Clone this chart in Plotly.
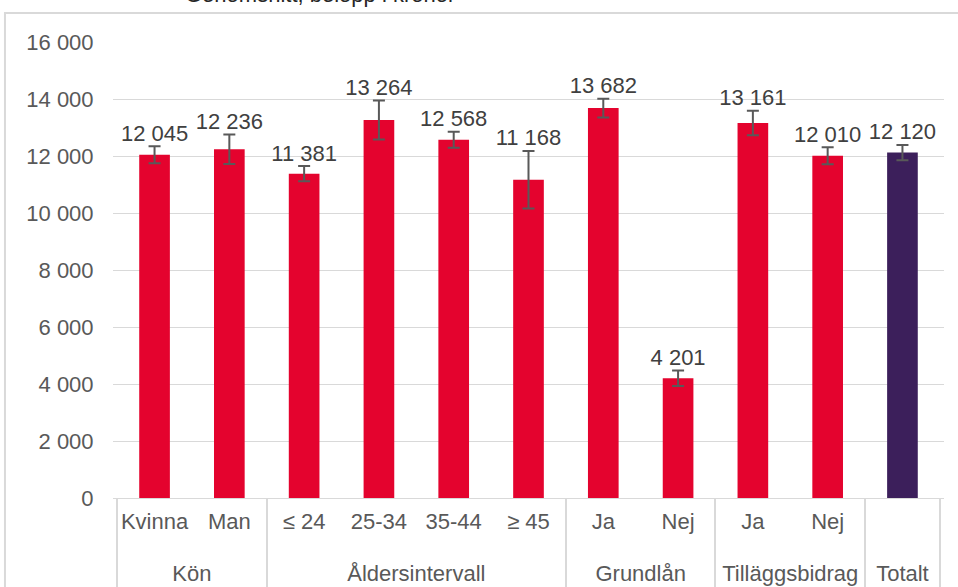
import plotly.graph_objects as go

groups = ["Kön", "Kön", "Åldersintervall", "Åldersintervall", "Åldersintervall", "Åldersintervall",
          "Grundlån", "Grundlån", "Tilläggsbidrag", "Tilläggsbidrag", "Totalt"]
subcats = ["Kvinna", "Man", "≤ 24", "25-34", "35-44", "≥ 45", "Ja", "Nej", "Ja", "Nej", " "]
values = [12045, 12236, 11381, 13264, 12568, 11168, 13682, 4201, 13161, 12010, 12120]
errors = [300, 520, 265, 685, 280, 1010, 330, 275, 430, 300, 270]
colors = ["#E4032E"] * 10 + ["#3C1F5B"]
title_text = "Genomsnitt, belopp i kronor"

labels = [f"{v:,}".replace(",", " ") for v in values]
label_y = [v + e for v, e in zip(values, errors)]
# blank first line pushes the group row further below the sub-category row
group_labels = ["<br>" + g for g in groups]

fig = go.Figure()
fig.add_trace(go.Bar(
    x=[group_labels, subcats], y=values,
    marker=dict(color=colors, line=dict(width=0)),
    error_y=dict(type="data", array=errors, color="#595959", thickness=2, width=6),
    hoverinfo="skip",
))
fig.add_trace(go.Scatter(
    x=[group_labels, subcats], y=label_y, mode="text", text=labels,
    textposition="top center",
    textfont=dict(family="Liberation Sans, Arial", size=22, color="#404040"),
    hoverinfo="skip", cliponaxis=False,
))

fig.update_layout(
    width=958, height=587,
    margin=dict(l=113, r=14, t=42, b=89),
    paper_bgcolor="white", plot_bgcolor="white",
    showlegend=False, bargap=0.59,
    separators=", ",
    font=dict(family="Liberation Sans, Arial", size=22, color="#595959"),
    yaxis=dict(range=[0, 16000], dtick=2000, tickformat=",d",
               showgrid=True, gridcolor="#D9D9D9", gridwidth=1,
               zeroline=False, showline=False,
               ticks="outside", ticklen=14, tickcolor="rgba(0,0,0,0)",
               tickfont=dict(size=22, color="#595959")),
    xaxis=dict(type="multicategory", showline=True, linecolor="#D9D9D9", linewidth=1,
               showdividers=True, dividercolor="#D9D9D9", dividerwidth=2,
               tickangle=0, automargin=False,
               ticklabelstandoff=4,
               tickfont=dict(size=22, color="#595959"), showgrid=False),
    shapes=[dict(type="rect", xref="paper", yref="paper",
                 x0=-0.13, x1=1.2, y0=-0.5, y1=1.0636,
                 line=dict(color="#D9D9D9", width=2), fillcolor="rgba(0,0,0,0)", layer="below")],
    annotations=[dict(text=title_text, xref="paper", yref="paper", x=0.249, y=1.0724,
                      xanchor="center", yanchor="bottom", showarrow=False,
                      font=dict(family="Liberation Sans, Arial", size=22, color="#262626"))],
)

fig.write_html("out.html", config={"displayModeBar": False},
               post_script="document.body.style.margin='0px';")
